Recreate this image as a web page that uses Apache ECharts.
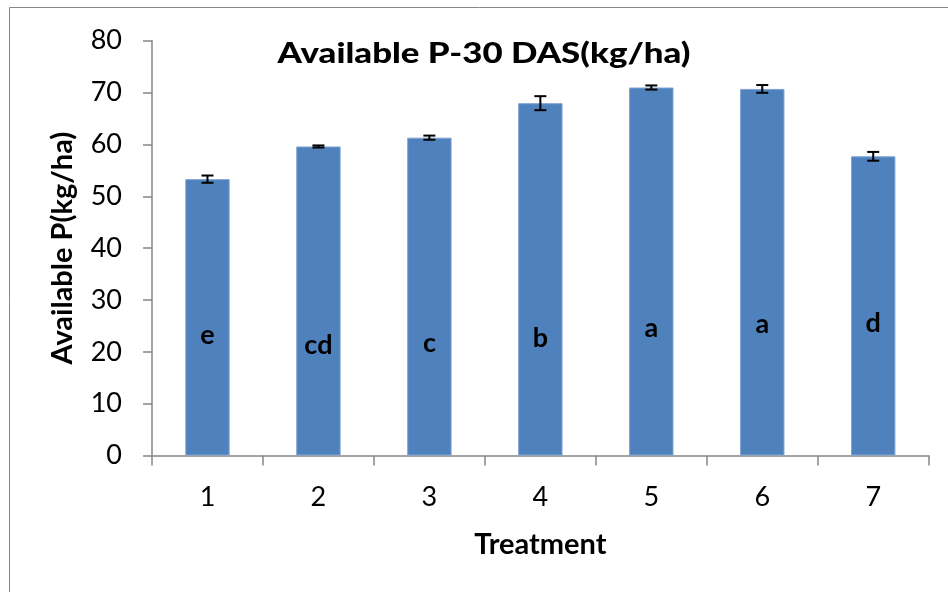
<!DOCTYPE html>
<html><head><meta charset="utf-8">
<script src="https://cdn.jsdelivr.net/npm/echarts@6/dist/echarts.min.js"></script>
<style>html,body{margin:0;padding:0;background:#fff}#c{width:948px;height:592px}</style>
</head><body><div id="c"></div>
<script>
var categories = ['1','2','3','4','5','6','7'];
var values = [53.3, 59.6, 61.3, 67.95, 70.97, 70.7, 57.7];
var errors = [0.7, 0.2, 0.4, 1.35, 0.4, 0.75, 0.85];
var letters = ['e','cd','c','b','a','a','d'];
var letterPos = [23.2, 21.3, 21.7, 22.6, 24.6, 25.3, 25.5];
var yTicks = [0,10,20,30,40,50,60,70,80];

var FONT = 'Lato';
var chart = echarts.init(document.getElementById('c'));
chart.setOption({
  animation: false,
  backgroundColor: '#fff',
  graphic: [
    {type:'rect', shape:{x:9.5,y:7.5,width:960,height:620}, style:{fill:'none', stroke:'#868686', lineWidth:1}, silent:true},
    {type:'text', x:484, y:39, scaleX:1.2, style:{text:'Available P-30 DAS(kg/ha)', fontFamily:FONT, fontWeight:900, fontSize:29, fill:'#000', align:'center', verticalAlign:'top'}, z:10}
  ],
  grid: {left:152, right:19.3, top:40.7, bottom:136.5},
  xAxis: {type:'category', data:categories, name:'Treatment', nameLocation:'middle', nameGap:75,
    nameTextStyle:{fontFamily:FONT, fontWeight:'bold', fontSize:29, color:'#000'},
    axisLine:{lineStyle:{color:'#868686', width:1.5}},
    axisTick:{show:true, length:10, lineStyle:{color:'#868686', width:1.5}},
    axisLabel:{fontFamily:FONT, fontSize:27, color:'#000', margin:28}},
  yAxis: {type:'value', min:0, max:80, interval:10, name:'Available P(kg/ha)', nameLocation:'middle', nameGap:75,
    nameTextStyle:{fontFamily:FONT, fontWeight:'bold', fontSize:29, color:'#000'},
    axisLine:{show:true, lineStyle:{color:'#868686', width:1.5}},
    axisTick:{show:true, length:9, lineStyle:{color:'#868686', width:1.5}},
    axisLabel:{fontFamily:FONT, fontSize:27, color:'#000', margin:30,
      formatter:function(v){return yTicks.indexOf(v)>=0?String(v):'';}},
    splitLine:{show:false}},
  series: [
    {type:'bar', data:values, barWidth:'40%',
     itemStyle:{color:'#4F81BD', borderColor:'#7EA3D3', borderWidth:1}},
    {type:'custom', data:values.map(function(v,i){return [i, v-errors[i], v+errors[i]];}), z:5,
     renderItem:function(params, api){
       var x=api.value(0), lo=api.coord([x, api.value(1)]), hi=api.coord([x, api.value(2)]);
       var hw=6;
       var st={stroke:'#000', lineWidth:2};
       return {type:'group', children:[
         {type:'line', shape:{x1:lo[0],y1:lo[1],x2:hi[0],y2:hi[1]}, style:st},
         {type:'line', shape:{x1:lo[0]-hw,y1:lo[1],x2:lo[0]+hw,y2:lo[1]}, style:st},
         {type:'line', shape:{x1:hi[0]-hw,y1:hi[1],x2:hi[0]+hw,y2:hi[1]}, style:st}
       ]};
     }},
    {type:'custom', data:letterPos.map(function(v,i){return [i, v];}), z:6,
     renderItem:function(params, api){
       var p=api.coord([api.value(0), api.value(1)]);
       return {type:'text', x:p[0], y:p[1], style:{text:letters[params.dataIndex], fontFamily:FONT, fontWeight:'bold', fontSize:27, fill:'#000', align:'center', verticalAlign:'middle'}};
     }}
  ]
});
</script></body></html>
